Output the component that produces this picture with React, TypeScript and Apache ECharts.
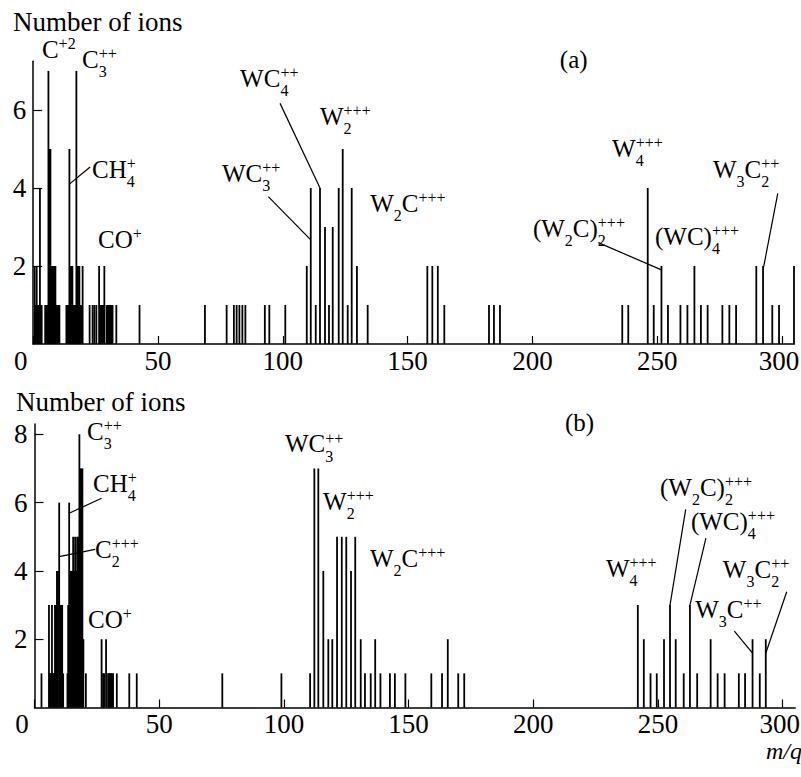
import React, { useEffect, useRef } from "react";
import * as echarts from "echarts";

// Panel (a): mass-to-charge ratio of each detected ion species and its count
const massA = [
  0.6, 1.0, 1.4, 1.8, 2.2, 2.7, 3.1, 3.4,
  4.8, 5.2, 5.6, 6.1, 6.5, 6.9, 7.3, 7.7, 8.1, 8.5, 8.9, 9.3, 9.7, 10.1, 10.5,
  13.3, 13.7, 14.1, 14.5, 14.9, 15.3, 15.7, 16.1, 16.5, 16.9, 17.3, 17.7, 18.1, 18.5, 18.9, 19.3, 19.8,
  22.6, 23.8, 24.5, 25.3, 26.4, 26.8, 27.2, 27.6, 28.0, 28.5, 29.4, 29.8, 30.2, 30.6, 31.0, 31.4, 31.8, 33.3, 42.6,
  68.8, 77.5, 80.4, 81.5, 82.6, 83.8, 85.0, 92.8, 94.6, 101.0,
  109.6, 111.2, 113.2, 114.9, 116.9, 118.5, 120.0, 122.4, 124.0, 126.0, 127.6, 129.7, 134.0,
  157.9, 159.9, 162.1, 164.7, 182.6, 184.6, 187.0,
  236.0, 238.4, 246.2, 248.6, 251.7, 254.3, 259.3, 262.1, 264.9, 267.5, 270.2,
  276.1, 278.9, 281.6, 289.7, 292.4, 296.1, 298.8, 304.8,
];
const countA = [
  2, 1, 2, 1, 1, 4, 1, 1,
  1, 1, 1, 7, 5, 5, 2, 2, 2, 2, 2, 1, 1, 1, 1,
  1, 1, 1, 5, 2, 2, 2, 1, 1, 1, 7, 2, 2, 2, 1, 1, 2,
  1, 1, 1, 1, 2, 1, 1, 1, 1, 2, 1, 1, 1, 1, 1, 1, 1, 1, 1,
  1, 1, 1, 1, 1, 1, 1, 1, 1, 1,
  2, 4, 1, 4, 3, 1, 3, 4, 5, 1, 4, 2, 1,
  2, 2, 2, 1, 1, 1, 1,
  1, 1, 4, 1, 2, 1, 1, 1, 2, 1, 1,
  1, 1, 1, 2, 2, 1, 1, 2,
];

// Panel (b)
const massB = [
  2.8,
  5.8, 6.2, 6.6, 7.0, 7.4, 7.8, 8.2, 8.6, 9.0, 9.4, 9.9, 10.3, 10.7, 11.1, 11.5,
  13.2, 13.5, 13.9, 14.3, 14.7, 15.1, 15.5, 15.9, 16.3, 16.7, 17.1, 17.5, 18.0, 18.4, 18.8, 19.2, 19.6, 20.6,
  26.9, 27.5, 27.9, 28.7, 29.5, 29.9, 30.3, 30.7, 31.1, 31.5, 33.0, 38.0, 41.0,
  75.3, 99.0, 110.5, 112.2, 113.8, 115.8, 117.8, 119.4, 121.3, 123.2, 125.0, 126.9, 128.6,
  130.8, 132.5, 134.8, 136.6, 138.7, 142.5, 144.5, 148.7, 159.1, 163.4, 165.7, 169.9, 172.3,
  241.9, 244.3, 247.0, 249.5, 252.4, 254.8, 257.1, 260.3, 262.8, 265.7,
  271.1, 273.9, 276.7, 282.4, 284.9, 287.9, 290.8, 293.2,
];
const countB = [
  1,
  3, 1, 1, 3, 1, 1, 3, 3, 4, 4, 6, 3, 3, 3, 1,
  1, 3, 6, 4, 4, 4, 5, 4, 5, 4, 5, 5, 8, 7, 7, 7, 2, 1,
  2, 1, 1, 2, 1, 1, 1, 1, 1, 1, 1, 1, 1,
  1, 1, 1, 7, 7, 4, 2, 2, 5, 5, 5, 4, 5,
  2, 1, 1, 2, 1, 1, 1, 1, 1, 1, 2, 1, 1,
  3, 2, 1, 1, 2, 3, 2, 1, 3, 1,
  2, 1, 1, 1, 1, 2, 1, 2,
];

const xTicks = [0, 50, 100, 150, 200, 250, 300];
const yTicksA = [2, 4, 6];
const yTicksB = [2, 4, 6, 8];

const FONT = '"Liberation Serif", "Times New Roman", serif';
const MAIN = 25;
const SCRIPT = 16;
const TICK_FONT = 27;
const STICK_WIDTH = 1.8;

type Part = { t?: string; sub?: string; sup?: string };
type Note = {
  x: number;
  y: number;
  parts: Part[];
  size?: number;
  italic?: boolean;
  leader?: [number, number, number, number];
};

// Ion labels, anchored (left edge, baseline) in data coordinates
const notesA: Note[] = [
  { x: -8.1, y: 8.03, parts: [{ t: "Number of ions" }], size: 27 },
  { x: 3.5, y: 7.33, parts: [{ t: "C" }, { sup: "+2" }] },
  { x: 19.55, y: 7.08, parts: [{ t: "C" }, { sub: "3", sup: "++" }] },
  { x: 23.6, y: 4.26, parts: [{ t: "CH" }, { sub: "4", sup: "+" }], leader: [22.8, 4.54, 14.5, 4.1] },
  { x: 26.0, y: 2.46, parts: [{ t: "CO" }, { sup: "+" }] },
  { x: 82.9, y: 6.59, parts: [{ t: "WC" }, { sub: "4", sup: "++" }], leader: [98.9, 6.17, 114.9, 4] },
  { x: 114.9, y: 5.62, parts: [{ t: "W" }, { sub: "2", sup: "+++" }] },
  { x: 75.6, y: 4.15, parts: [{ t: "WC" }, { sub: "3", sup: "++" }], leader: [94.2, 3.78, 111.2, 2.67] },
  { x: 135.0, y: 3.38, parts: [{ t: "W" }, { sub: "2" }, { t: "C" }, { sup: "+++" }] },
  { x: 211, y: 7.08, parts: [{ t: "(a)" }] },
  { x: 231.9, y: 4.79, parts: [{ t: "W" }, { sub: "4", sup: "+++" }] },
  { x: 272.3, y: 4.26, parts: [{ t: "W" }, { sub: "3" }, { t: "C" }, { sub: "2", sup: "++" }], leader: [298.3, 3.86, 292.4, 1.9] },
  { x: 200.2, y: 2.74, parts: [{ t: "(W" }, { sub: "2" }, { t: "C)" }, { sub: "2", sup: "+++" }], leader: [226.4, 2.6, 251.7, 1.9] },
  { x: 249.1, y: 2.54, parts: [{ t: "(WC)" }, { sub: "4", sup: "+++" }] },
];

const notesB: Note[] = [
  { x: -7.4, y: 8.68, parts: [{ t: "Number of ions" }], size: 27 },
  { x: 21.05, y: 7.83, parts: [{ t: "C" }, { sub: "3", sup: "++" }] },
  { x: 23.5, y: 6.31, parts: [{ t: "CH" }, { sub: "4", sup: "+" }], leader: [26.9, 6.13, 13.9, 5.69] },
  { x: 24.3, y: 4.38, parts: [{ t: "C" }, { sub: "2", sup: "+++" }], leader: [24.3, 4.63, 9.9, 4.42] },
  { x: 21.5, y: 2.33, parts: [{ t: "CO" }, { sup: "+" }] },
  { x: 100.4, y: 7.47, parts: [{ t: "WC" }, { sub: "3", sup: "++" }] },
  { x: 115.7, y: 5.78, parts: [{ t: "W" }, { sub: "2", sup: "+++" }] },
  { x: 134.5, y: 4.11, parts: [{ t: "W" }, { sub: "2" }, { t: "C" }, { sup: "+++" }] },
  { x: 212.7, y: 8.1, parts: [{ t: "(b)" }] },
  { x: 250.8, y: 6.2, parts: [{ t: "(W" }, { sub: "2" }, { t: "C)" }, { sub: "2", sup: "+++" }], leader: [261.1, 5.8, 254.8, 3] },
  { x: 263.2, y: 5.2, parts: [{ t: "(WC)" }, { sub: "4", sup: "+++" }], leader: [269.2, 4.96, 262.8, 3] },
  { x: 229.1, y: 3.82, parts: [{ t: "W" }, { sub: "4", sup: "+++" }] },
  { x: 276.0, y: 3.79, parts: [{ t: "W" }, { sub: "3" }, { t: "C" }, { sub: "2", sup: "++" }], leader: [301.6, 3.39, 293.2, 1.59] },
  { x: 264.9, y: 2.62, parts: [{ t: "W" }, { sub: "3" }, { t: "C" }, { sup: "++" }], leader: [280.6, 2.24, 287.9, 1.59] },
  { x: 293.3, y: -1.5, parts: [{ t: "m/q" }], size: 24, italic: true },
];

let measureCtx: CanvasRenderingContext2D | null = null;
function textWidth(text: string, size: number, italic = false): number {
  if (!measureCtx) measureCtx = document.createElement("canvas").getContext("2d");
  if (!measureCtx) return text.length * size * 0.5;
  measureCtx.font = `${italic ? "italic " : ""}${size}px ${FONT}`;
  return measureCtx.measureText(text).width;
}

// text element whose alphabetic baseline sits at `baseline`
function textAt(text: string, x: number, baseline: number, size: number, italic = false) {
  return {
    type: "text",
    x,
    y: baseline - 0.34 * size,
    silent: true,
    style: {
      text,
      fill: "#000",
      fontSize: size,
      fontFamily: FONT,
      fontStyle: italic ? "italic" : "normal",
      align: "left",
      verticalAlign: "middle",
    },
  };
}

function buildNotes(chart: echarts.ECharts, gridIndex: number, notes: Note[]) {
  const els: any[] = [];
  const px = (x: number, y: number) => chart.convertToPixel({ gridIndex }, [x, y]) as number[];
  notes.forEach((n) => {
    const size = n.size ?? MAIN;
    const [x0, base] = px(n.x, n.y);
    let cx = x0;
    n.parts.forEach((p) => {
      if (p.t) {
        els.push(textAt(p.t, cx, base, size, n.italic));
        cx += textWidth(p.t, size, n.italic);
      } else {
        let w = 0;
        if (p.sub) {
          els.push(textAt(p.sub, cx, base + 9, SCRIPT));
          w = Math.max(w, textWidth(p.sub, SCRIPT));
        }
        if (p.sup) {
          els.push(textAt(p.sup, cx, base - 9, SCRIPT));
          w = Math.max(w, textWidth(p.sup, SCRIPT));
        }
        cx += w;
      }
    });
    if (n.leader) {
      const [a, b, c, d] = n.leader;
      const [x1, y1] = px(a, b);
      const [x2, y2] = px(c, d);
      els.push({
        type: "line",
        silent: true,
        shape: { x1, y1, x2, y2 },
        style: { stroke: "#000", lineWidth: 1.2 },
      });
    }
  });
  return els;
}

function xAxisFor(gridIndex: number) {
  return {
    type: "value",
    gridIndex,
    min: 0,
    max: 305,
    axisLine: { show: true, onZero: false, lineStyle: { color: "#000", width: 1.5 } },
    axisTick: { show: true, inside: true, length: 8, customValues: xTicks, lineStyle: { color: "#000", width: 1.2 } },
    axisLabel: {
      customValues: xTicks,
      color: "#000",
      fontSize: TICK_FONT,
      fontFamily: FONT,
      margin: 3,
      formatter: (v: number) => (v === 0 ? "{z|0}" : v === 300 ? "{e|300}" : String(v)),
      rich: {
        z: { color: "#000", fontSize: TICK_FONT, fontFamily: FONT, padding: [0, 25, 0, 0] },
        e: { color: "#000", fontSize: TICK_FONT, fontFamily: FONT, padding: [0, 6, 0, 0] },
      },
    },
    splitLine: { show: false },
  };
}

function yAxisFor(gridIndex: number, max: number, ticks: number[]) {
  return {
    type: "value",
    gridIndex,
    min: 0,
    max,
    axisLine: { show: true, onZero: false, lineStyle: { color: "#000", width: 1.5 } },
    axisTick: { show: true, inside: true, length: 9, customValues: ticks, lineStyle: { color: "#000", width: 1.2 } },
    axisLabel: { customValues: ticks, color: "#000", fontSize: TICK_FONT, fontFamily: FONT, margin: 7 },
    splitLine: { show: false },
  };
}

// one vertical stick per ion species, from the baseline up to its count
function stickSeries(axisIndex: number, mass: number[], count: number[]) {
  return {
    type: "custom",
    xAxisIndex: axisIndex,
    yAxisIndex: axisIndex,
    silent: true,
    encode: { x: 0, y: 1 },
    data: mass.map((m, i) => [m, count[i]]),
    renderItem: (_params: any, api: any) => {
      const top = api.coord([api.value(0), api.value(1)]);
      const bottom = api.coord([api.value(0), 0]);
      return {
        type: "rect",
        shape: {
          x: top[0] - STICK_WIDTH / 2,
          y: top[1],
          width: STICK_WIDTH,
          height: bottom[1] - top[1],
        },
        style: { fill: "#000" },
      };
    },
  };
}

export default function App() {
  const ref = useRef<HTMLDivElement>(null);

  useEffect(() => {
    if (!ref.current) return;
    const chart = echarts.init(ref.current, undefined, { renderer: "svg" });
    const option: any = {
      animation: false,
      backgroundColor: "#fff",
      grid: [
        { left: 33.2, top: 61.25, width: 761.3, height: 282.75, outerBoundsMode: "none" },
        { left: 34.5, top: 424.1, width: 760.7, height: 283.4, outerBoundsMode: "none" },
      ],
      xAxis: [xAxisFor(0), xAxisFor(1)],
      yAxis: [yAxisFor(0, 7.25, yTicksA), yAxisFor(1, 8.3, yTicksB)],
      series: [stickSeries(0, massA, countA), stickSeries(1, massB, countB)],
    };
    chart.setOption(option);
    const elements = [...buildNotes(chart, 0, notesA), ...buildNotes(chart, 1, notesB)];
    chart.setOption({ graphic: { elements } });
    return () => chart.dispose();
  }, []);

  return (
    <div
      ref={ref}
      style={{ position: "fixed", left: 0, top: 0, width: 801, height: 777, background: "#fff" }}
    />
  );
}
